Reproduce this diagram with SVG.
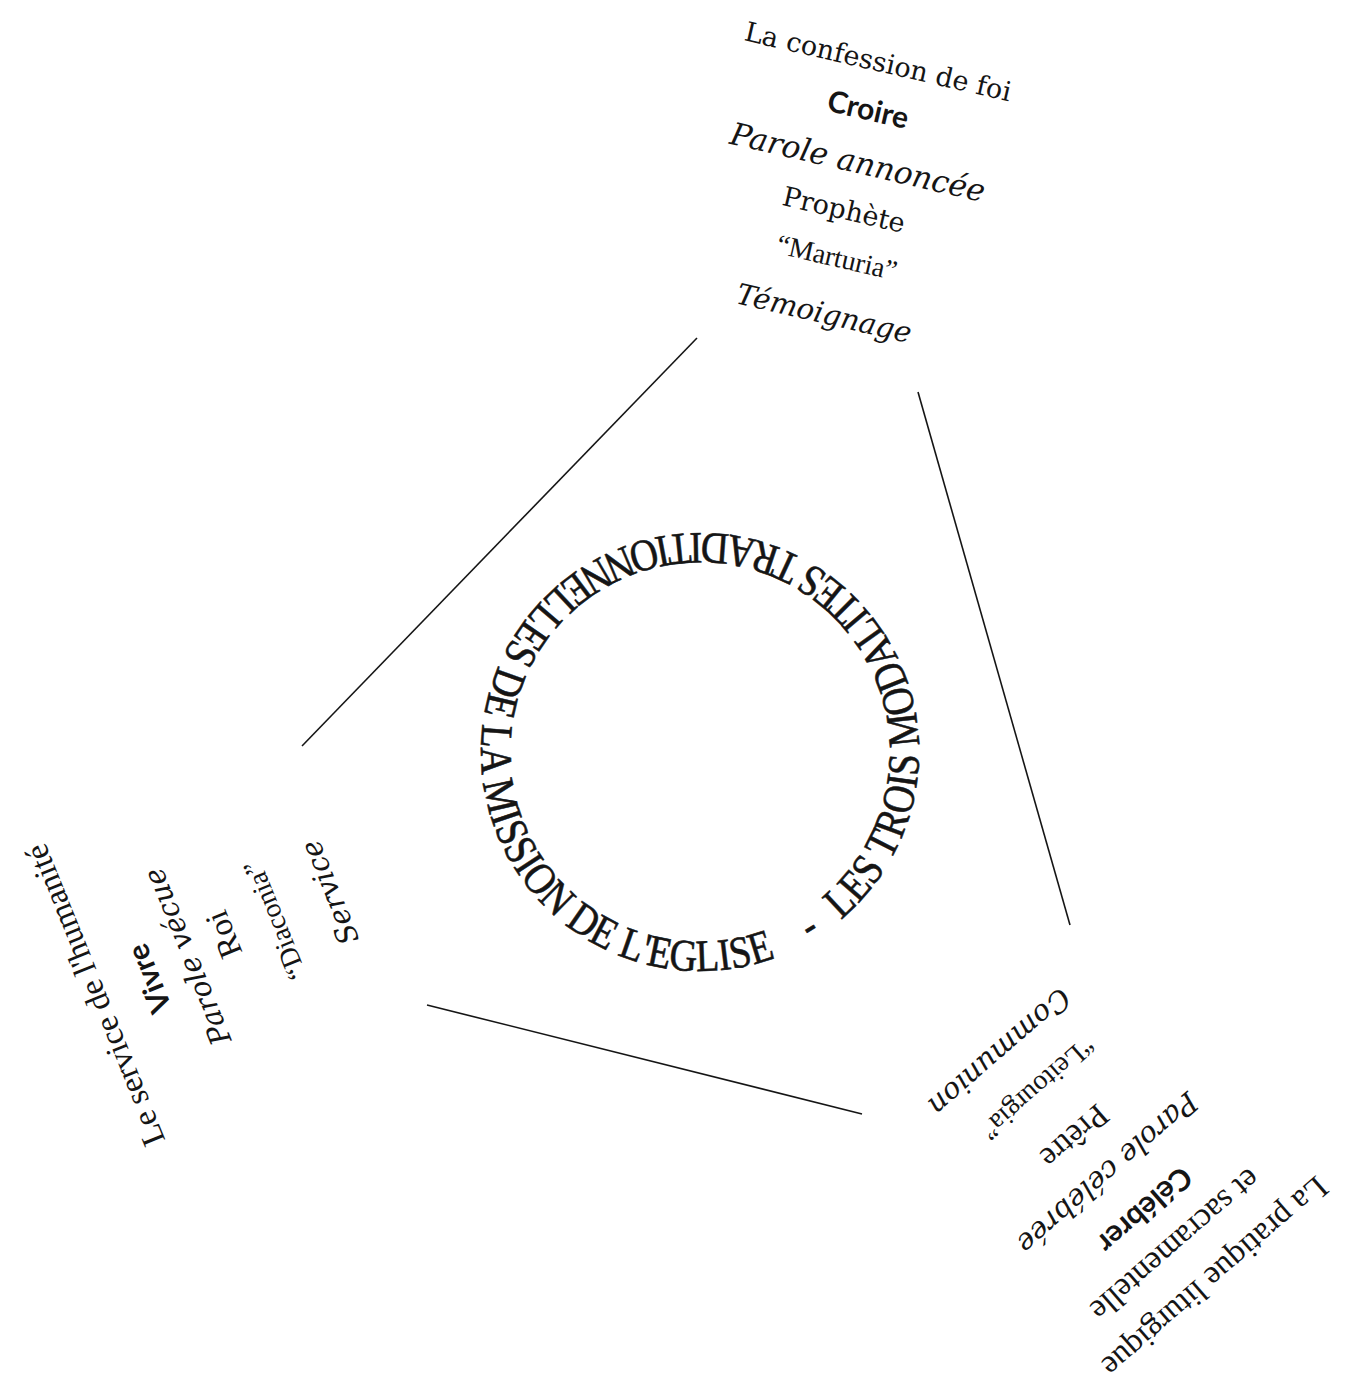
<svg xmlns="http://www.w3.org/2000/svg" width="1345" height="1394" viewBox="0 0 1345 1394">
<style>
  text { fill: #151515; }
  .sf { font-family: "DejaVu Serif", serif; font-size: 27px; }
  .tm { font-family: "Liberation Serif", serif; font-size: 33px; }
  .bd { font-family: Lato, "Open Sans", sans-serif; font-weight: bold; font-size: 30px; }
  .it { font-family: "DejaVu Serif", serif; font-style: italic; font-size: 29px; }
  .bl { font-family: "Liberation Serif", serif; font-size: 28px; }
  .ring { font-family: "Liberation Serif", serif; font-size: 45px; stroke: #151515; stroke-width: 0.6px; }
  .ln { stroke: #151515; stroke-width: 1.6; fill: none; }
</style>
<defs>
  <path id="ringPath" d="M840.8,919.8 A219,219 0 0 0 559.2,584.2 A219,219 0 0 0 840.8,919.8"/>
</defs>
<rect width="1345" height="1394" fill="#ffffff"/>

<g id="connectors">
  <line class="ln" x1="697" y1="338" x2="302" y2="746"/>
  <line class="ln" x1="918" y1="392" x2="1070" y2="925"/>
  <line class="ln" x1="427" y1="1005" x2="862" y2="1114"/>
</g>

<g id="node-center">
  <text class="ring"><textPath href="#ringPath" startOffset="0" textLength="1361" lengthAdjust="spacingAndGlyphs">LES TROIS MODALITES TRADITIONNELLES DE LA MISSION DE L'EGLISE&#160;&#160;&#160;&#160;-&#160;</textPath></text>
</g>

<g id="node-croire" transform="translate(878,62) rotate(13)" text-anchor="middle">
  <text class="sf" x="0" y="9">La confession de foi</text>
  <text class="bd" x="1" y="59">Croire</text>
  <text class="it" x="3" y="113" style="font-size:31px">Parole annoncée</text>
  <text class="sf" x="0" y="161">Prophète</text>
  <text class="bl" x="4" y="209">“Marturia”</text>
  <text class="it" x="4" y="267">Témoignage</text>
</g>

<g id="node-vivre" transform="translate(95,995) rotate(-112)" text-anchor="middle">
  <text class="tm" x="0" y="11">Le service de l'humanité</text>
  <text class="bd" x="-5" y="67">Vivre</text>
  <text class="it" x="1" y="110">Parole vécue</text>
  <text class="tm" x="8" y="153">Roi</text>
  <text class="bl" x="2" y="204">“Diaconia”</text>
  <text class="it" x="7" y="266">Service</text>
</g>

<g id="node-celebrer" transform="translate(1215,1277) rotate(139)" text-anchor="middle">
  <text class="tm" x="0" y="11">La pratique liturgique</text>
  <text class="tm" x="9" y="61">et sacramentelle</text>
  <text class="bd" x="9" y="107">Célébrer</text>
  <text class="it" x="13" y="159">Parole célébrée</text>
  <text class="tm" x="14" y="209">Prêtre</text>
  <text class="bl" x="10" y="268">“Leitourgia”</text>
  <text class="it" x="15" y="321">Communion</text>
</g>
</svg>
